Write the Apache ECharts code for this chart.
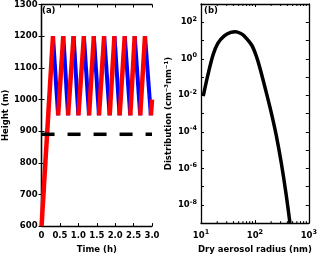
<!DOCTYPE html>
<html><head><meta charset="utf-8">
<script src="https://cdn.jsdelivr.net/npm/echarts@6/dist/echarts.min.js"></script>
<style>html,body{margin:0;padding:0;background:#fff}#c{width:320px;height:259px}</style>
</head><body><div id="c"></div>
<script>
// Panel (a): boundary-layer height sawtooth
const startPoint = [0, 600];
const peakTimes = [0.31, 0.59, 0.87, 1.15, 1.42, 1.70, 1.98, 2.26, 2.53, 2.81];
const troughTimes = [0.45, 0.72, 1.00, 1.29, 1.56, 1.85, 2.12, 2.41, 2.68, 2.97];
const peakHeight = 1200;
const troughHeight = 950;
const endPoint = [3.0, 1000];
const dashedLevel = 890;
const timeRange = [0, 3];
const heightRange = [600, 1300];

// Panel (b): size distribution
const radius = [11.0, 13.5, 16.7, 20.5, 27, 35.6, 43.7, 53.7, 62, 87.5, 108, 126, 165, 203, 250, 308, 378, 447];
const distribution = [0.0091, 0.14, 1.6, 7.0, 18, 28, 30.5, 25, 18.8, 5.5, 1.2, 0.26, 0.012, 0.001, 6e-5, 2e-6, 4e-8, 1.0e-9];
const radiusRange = [10, 1000];
const distRange = [1e-9, 1e3];
const minorTickRadii = [20, 30, 40, 50, 60, 70, 80, 90, 200, 300, 400, 500, 600, 700, 800, 900];

const FONT = 'DejaVu Sans';
const FS = 8.5;

// build segments
const redSegs = [];
const blueSegs = [];
redSegs.push([startPoint, [peakTimes[0], peakHeight]]);
for (let i = 0; i < peakTimes.length; i++) {
  blueSegs.push([[peakTimes[i], peakHeight], [troughTimes[i], troughHeight]]);
  if (i + 1 < peakTimes.length) redSegs.push([[troughTimes[i], troughHeight], [peakTimes[i + 1], peakHeight]]);
}
redSegs.push([[troughTimes[troughTimes.length - 1], troughHeight], endPoint]);

const series = [];
blueSegs.forEach(s => series.push({type:'line', xAxisIndex:0, yAxisIndex:0, data:s, showSymbol:false, silent:true, lineStyle:{color:'#0000ff', width:4}, z:2}));
redSegs.forEach(s => series.push({type:'line', xAxisIndex:0, yAxisIndex:0, data:s, showSymbol:false, silent:true, lineStyle:{color:'#ff0000', width:4.5}, z:3}));
series.push({type:'line', xAxisIndex:0, yAxisIndex:0, data:[[timeRange[0], dashedLevel],[timeRange[1], dashedLevel]], showSymbol:false, silent:true, lineStyle:{color:'#000', width:3.5, type:[13,13]}, z:4});
series.push({type:'line', xAxisIndex:2, yAxisIndex:2, data: radius.map((r,i)=>[r, distribution[i]]), showSymbol:false, smooth:0.3, silent:true, lineStyle:{color:'#000', width:3.5, join:'round', cap:'butt'}, z:3});
// minor ticks on the log x axis (top and bottom)
series.push({type:'custom', xAxisIndex:2, yAxisIndex:2, silent:true, z:5, clip:false,
  data: minorTickRadii.map(r=>[r]),
  renderItem: function(params, api){
    const b = api.coord([api.value(0), distRange[0]]);
    const t = api.coord([api.value(0), distRange[1]]);
    const st = {stroke:'#000', lineWidth:1};
    return {type:'group', children:[
      {type:'line', shape:{x1:b[0], y1:b[1], x2:b[0], y2:b[1]-2}, style:st},
      {type:'line', shape:{x1:t[0], y1:t[1], x2:t[0], y2:t[1]+2}, style:st}
    ]};
  }
});

const txt = {fontFamily: FONT, fontWeight:'bold', fontSize: FS, color:'#000'};
const axLine = {show:true, lineStyle:{color:'#000', width:1.3}};
const tick = {show:true, inside:true, length:3, lineStyle:{color:'#000', width:1}};
const supRich = {
  b:{fontFamily:FONT, fontWeight:'bold', fontSize:FS, color:'#000'},
  s:{fontFamily:FONT, fontWeight:'bold', fontSize:6.5, color:'#000', padding:[0,0,6,0]}
};
function supFmt(v){
  const e = Math.round(Math.log10(v));
  return '{b|10}{s|' + e + '}';
}

const option = {
  animation:false,
  backgroundColor:'#fff',
  grid:[
    {left:40, top:4, width:112, height:226, containLabel:false},
    {left:201, top:4, width:111, height:225, containLabel:false}
  ],
  xAxis:[
    {gridIndex:0, type:'value', min:timeRange[0], max:timeRange[1], interval:0.5, axisLine:axLine, axisTick:tick, splitLine:{show:false},
     axisLabel:Object.assign({margin:5, formatter:v=> v===0?'0':v.toFixed(1)}, txt),
     name:'Time (h)', nameLocation:'middle', nameGap:15, nameTextStyle:txt},
    {gridIndex:0, type:'value', position:'top', min:timeRange[0], max:timeRange[1], interval:0.5, axisLine:axLine, axisTick:tick, axisLabel:{show:false}, splitLine:{show:false}},
    {gridIndex:1, type:'log', logBase:10, min:radiusRange[0], max:radiusRange[1], axisLine:axLine, axisTick:tick, splitLine:{show:false},
     axisLabel:{margin:6, formatter:supFmt, rich:supRich},
     name:'Dry aerosol radius (nm)', nameLocation:'middle', nameGap:16, nameTextStyle:txt},
    {gridIndex:1, type:'log', logBase:10, position:'top', min:radiusRange[0], max:radiusRange[1], axisLine:axLine, axisTick:tick, axisLabel:{show:false}, splitLine:{show:false}}
  ],
  yAxis:[
    {gridIndex:0, type:'value', min:heightRange[0], max:heightRange[1], interval:100, axisLine:axLine, axisTick:tick, splitLine:{show:false},
     axisLabel:Object.assign({margin:4, formatter:v=>String(v)}, txt),
     name:'Height (m)', nameLocation:'middle', nameGap:27, nameTextStyle:txt},
    {gridIndex:0, type:'value', position:'right', min:heightRange[0], max:heightRange[1], interval:100, axisLine:axLine, axisTick:tick, axisLabel:{show:false}, splitLine:{show:false}},
    {gridIndex:1, type:'log', logBase:10, min:distRange[0], max:distRange[1], interval:1, axisLine:axLine, axisTick:tick, splitLine:{show:false},
     axisLabel:{margin:4, rich:supRich, formatter:function(v){const e=Math.round(Math.log10(v)); return (e%2===0 && e>-9 && e<3)? supFmt(v):'';}},
     name:'Distribution (cm\u207B\u00B3nm\u207B\u00B9)', nameLocation:'middle', nameGap:28, nameTextStyle:txt},
    {gridIndex:1, type:'log', logBase:10, position:'right', min:distRange[0], max:distRange[1], interval:1, axisLine:axLine, axisTick:tick, axisLabel:{show:false}, splitLine:{show:false}}
  ],
  graphic:[
    {type:'text', left:42, top:6, style:{text:'(a)', font:'bold 8.5px "DejaVu Sans"', fill:'#000'}},
    {type:'text', left:204, top:6, style:{text:'(b)', font:'bold 8.5px "DejaVu Sans"', fill:'#000'}}
  ],
  series: series
};
const chart = echarts.init(document.getElementById('c'), null, {renderer:'canvas'});
chart.setOption(option);
</script></body></html>
